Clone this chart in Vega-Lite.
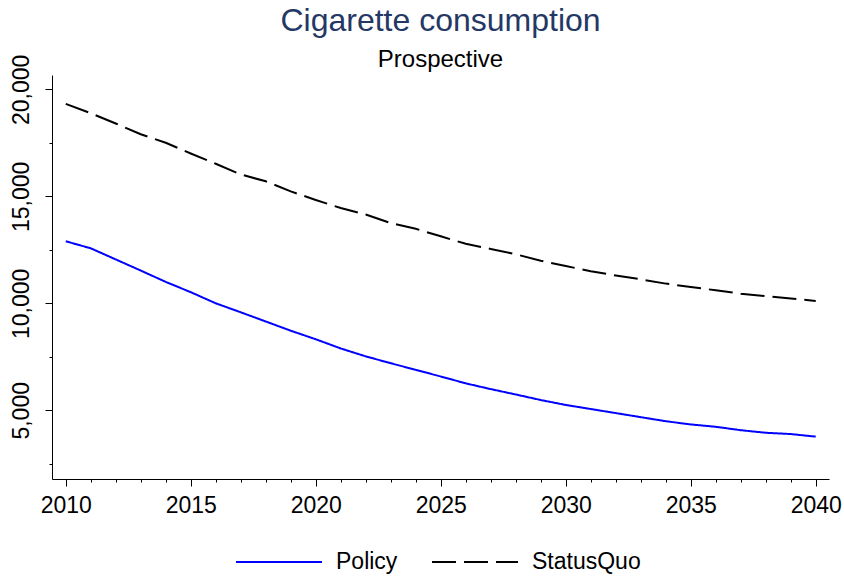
{
  "$schema": "https://vega.github.io/schema/vega-lite/v6.json",
  "width": 777,
  "height": 404,
  "autosize": "none",
  "padding": {"left": 52, "top": 75, "right": 15, "bottom": 98},
  "background": "white",
  "config": {
    "view": {"stroke": null},
    "font": "Liberation Sans"
  },
  "title": {
    "text": "Cigarette consumption",
    "subtitle": "Prospective",
    "anchor": "middle",
    "font": "Liberation Sans",
    "fontSize": 32,
    "fontWeight": "normal",
    "color": "#243865",
    "subtitleFont": "Liberation Sans",
    "subtitleFontSize": 24,
    "subtitleColor": "#000000",
    "subtitlePadding": 10,
    "offset": -19
  },
  "data": {
    "values": [
      {"year": 2010, "series": "Policy", "value": 12900},
      {"year": 2011, "series": "Policy", "value": 12570},
      {"year": 2012, "series": "Policy", "value": 12050},
      {"year": 2013, "series": "Policy", "value": 11530},
      {"year": 2014, "series": "Policy", "value": 11000},
      {"year": 2015, "series": "Policy", "value": 10520},
      {"year": 2016, "series": "Policy", "value": 10000},
      {"year": 2017, "series": "Policy", "value": 9580},
      {"year": 2018, "series": "Policy", "value": 9150},
      {"year": 2019, "series": "Policy", "value": 8720},
      {"year": 2020, "series": "Policy", "value": 8320},
      {"year": 2021, "series": "Policy", "value": 7890},
      {"year": 2022, "series": "Policy", "value": 7520},
      {"year": 2023, "series": "Policy", "value": 7200},
      {"year": 2024, "series": "Policy", "value": 6890},
      {"year": 2025, "series": "Policy", "value": 6580},
      {"year": 2026, "series": "Policy", "value": 6260},
      {"year": 2027, "series": "Policy", "value": 5990},
      {"year": 2028, "series": "Policy", "value": 5740},
      {"year": 2029, "series": "Policy", "value": 5480},
      {"year": 2030, "series": "Policy", "value": 5250},
      {"year": 2031, "series": "Policy", "value": 5060},
      {"year": 2032, "series": "Policy", "value": 4870},
      {"year": 2033, "series": "Policy", "value": 4680},
      {"year": 2034, "series": "Policy", "value": 4490},
      {"year": 2035, "series": "Policy", "value": 4340},
      {"year": 2036, "series": "Policy", "value": 4230},
      {"year": 2037, "series": "Policy", "value": 4070},
      {"year": 2038, "series": "Policy", "value": 3950},
      {"year": 2039, "series": "Policy", "value": 3890},
      {"year": 2040, "series": "Policy", "value": 3770},
      {"year": 2010, "series": "StatusQuo", "value": 19320},
      {"year": 2011, "series": "StatusQuo", "value": 18880},
      {"year": 2012, "series": "StatusQuo", "value": 18400},
      {"year": 2013, "series": "StatusQuo", "value": 17900},
      {"year": 2014, "series": "StatusQuo", "value": 17500},
      {"year": 2015, "series": "StatusQuo", "value": 17000},
      {"year": 2016, "series": "StatusQuo", "value": 16520},
      {"year": 2017, "series": "StatusQuo", "value": 16020},
      {"year": 2018, "series": "StatusQuo", "value": 15700},
      {"year": 2019, "series": "StatusQuo", "value": 15230},
      {"year": 2020, "series": "StatusQuo", "value": 14830},
      {"year": 2021, "series": "StatusQuo", "value": 14450},
      {"year": 2022, "series": "StatusQuo", "value": 14150},
      {"year": 2023, "series": "StatusQuo", "value": 13750},
      {"year": 2024, "series": "StatusQuo", "value": 13480},
      {"year": 2025, "series": "StatusQuo", "value": 13130},
      {"year": 2026, "series": "StatusQuo", "value": 12780},
      {"year": 2027, "series": "StatusQuo", "value": 12540},
      {"year": 2028, "series": "StatusQuo", "value": 12290},
      {"year": 2029, "series": "StatusQuo", "value": 11990},
      {"year": 2030, "series": "StatusQuo", "value": 11740},
      {"year": 2031, "series": "StatusQuo", "value": 11500},
      {"year": 2032, "series": "StatusQuo", "value": 11300},
      {"year": 2033, "series": "StatusQuo", "value": 11120},
      {"year": 2034, "series": "StatusQuo", "value": 10920},
      {"year": 2035, "series": "StatusQuo", "value": 10760},
      {"year": 2036, "series": "StatusQuo", "value": 10610},
      {"year": 2037, "series": "StatusQuo", "value": 10450},
      {"year": 2038, "series": "StatusQuo", "value": 10330},
      {"year": 2039, "series": "StatusQuo", "value": 10220},
      {"year": 2040, "series": "StatusQuo", "value": 10110}
    ]
  },
  "mark": {"type": "line", "strokeWidth": 2, "strokeCap": "butt"},
  "encoding": {
    "x": {
      "field": "year",
      "type": "quantitative",
      "scale": {"domain": [2009.45, 2040.53], "nice": false, "zero": false},
      "axis": {
        "title": null,
        "values": [2010, 2011, 2012, 2013, 2014, 2015, 2016, 2017, 2018, 2019, 2020, 2021, 2022, 2023, 2024, 2025, 2026, 2027, 2028, 2029, 2030, 2031, 2032, 2033, 2034, 2035, 2036, 2037, 2038, 2039, 2040],
        "labelExpr": "datum.value % 5 === 0 ? format(datum.value, 'd') : ''",
        "grid": false,
        "domainColor": "#000000",
        "domainWidth": 1,
        "tickColor": "#000000",
        "tickWidth": 1,
        "tickSize": {"condition": {"test": "datum.value % 5 === 0", "value": 7}, "value": 3},
        "labelFont": "Liberation Sans",
        "labelFontSize": 23,
        "labelColor": "#000000",
        "labelPadding": 8,
        "labelFlush": false,
        "labelOverlap": false
      }
    },
    "y": {
      "field": "value",
      "type": "quantitative",
      "scale": {"domain": [1790, 20668], "nice": false, "zero": false},
      "axis": {
        "title": null,
        "values": [2500, 5000, 7500, 10000, 12500, 15000, 17500, 20000],
        "labelExpr": "datum.value % 5000 === 0 ? format(datum.value, ',') : ''",
        "grid": false,
        "domainColor": "#000000",
        "domainWidth": 1,
        "tickColor": "#000000",
        "tickWidth": 1,
        "tickSize": {"condition": {"test": "datum.value % 5000 === 0", "value": 7}, "value": 3},
        "labelAngle": -90,
        "labelAlign": "center",
        "labelBaseline": "bottom",
        "labelFont": "Liberation Sans",
        "labelFontSize": 23,
        "labelColor": "#000000",
        "labelPadding": 12,
        "labelFlush": false,
        "labelOverlap": false
      }
    },
    "color": {
      "field": "series",
      "type": "nominal",
      "scale": {"domain": ["Policy", "StatusQuo"], "range": ["#0000ff", "#000000"]},
      "legend": {
        "title": null,
        "orient": "none",
        "direction": "horizontal",
        "legendX": 183,
        "legendY": 443,
        "symbolType": "stroke",
        "symbolSize": 7396,
        "symbolStrokeWidth": 2,
        "labelFont": "Liberation Sans",
        "labelFontSize": 23,
        "labelColor": "#000000",
        "labelOffset": 13,
        "columnPadding": 30
      }
    },
    "strokeDash": {
      "field": "series",
      "type": "nominal",
      "scale": {"domain": ["Policy", "StatusQuo"], "range": [[1, 0], [24, 8]]},
      "legend": {
        "title": null,
        "orient": "none",
        "direction": "horizontal",
        "legendX": 183,
        "legendY": 443,
        "symbolType": "stroke",
        "symbolSize": 7396,
        "symbolStrokeWidth": 2,
        "labelFont": "Liberation Sans",
        "labelFontSize": 23,
        "labelColor": "#000000",
        "labelOffset": 13,
        "columnPadding": 30
      }
    }
  }
}
